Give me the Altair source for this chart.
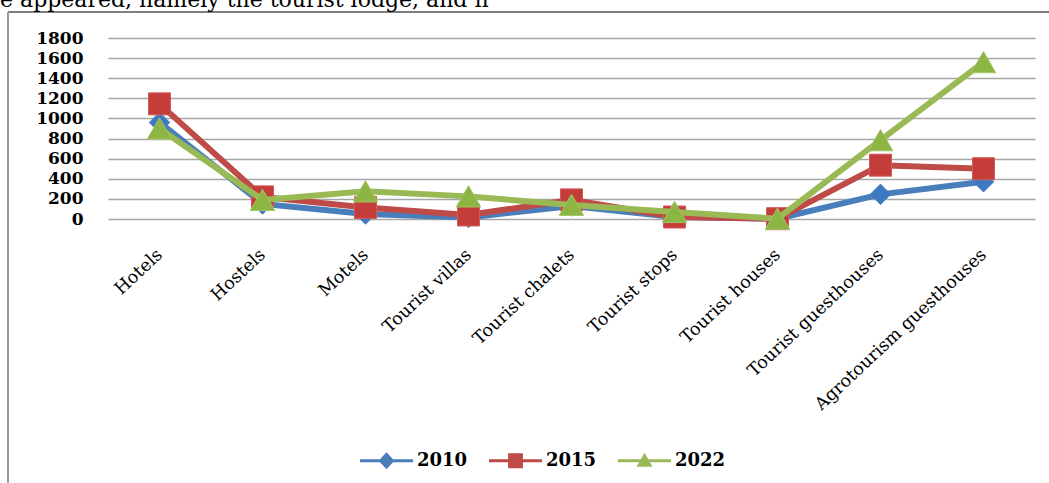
import altair as alt
import pandas as pd

caption = "e appeared, namely the tourist lodge, and h"

categories = [
    "Hotels", "Hostels", "Motels", "Tourist villas", "Tourist chalets",
    "Tourist stops", "Tourist houses", "Tourist guesthouses",
    "Agrotourism guesthouses",
]
years = ["2010", "2015", "2022"]
v2010 = [960, 150, 50, 15, 130, 20, 3, 245, 370]
v2015 = [1145, 220, 115, 40, 190, 20, 3, 535, 500]
v2022 = [900, 190, 275, 225, 140, 70, 3, 784, 1560]
y_ticks = [0, 200, 400, 600, 800, 1000, 1200, 1400, 1600, 1800]

line_colors = ["#4A7EBB", "#BE4B48", "#98B954"]
marker_fill = ["#3D78C2", "#C53D3A", "#8DB544"]
marker_stroke = ["#4A7EBB", "#D05A57", "#A3C467"]
marker_shapes = ["diamond", "square", "triangle-up"]
marker_sizes = [420, 484, 600]
legend_paths = [
    "M-1,-0.06H1V0.06H-1Z M0,-0.32L0.3,0L0,0.32L-0.3,0Z",
    "M-1,-0.06H1V0.06H-1Z M-0.28,-0.28H0.28V0.28H-0.28Z",
    "M-1,-0.06H1V0.06H-1Z M0,-0.3L0.3,0.23H-0.3Z",
]

rows = []
for yr, vals in zip(years, [v2010, v2015, v2022]):
    for c, v in zip(categories, vals):
        rows.append({"category": c, "year": yr, "value": v})
df = pd.DataFrame(rows)

SERIF = "DejaVu Serif"

x_enc = alt.X(
    "category:N",
    sort=categories,
    scale=alt.Scale(domain=categories),
    axis=alt.Axis(
        title=None, labelAngle=-43, labelAlign="right", labelBaseline="middle",
        labelPadding=33, labelFont=SERIF, labelFontSize=17.5, labelColor="black",
        ticks=False, domain=False, grid=False, labelOverlap=False, labelLimit=400,
    ),
)
y_enc = alt.Y(
    "value:Q",
    scale=alt.Scale(domain=[0, 1800], nice=False),
    axis=alt.Axis(
        title=None, values=y_ticks, format="d", grid=True, gridColor="#A6A6A6",
        gridWidth=1.3, domain=False, ticks=False, labelPadding=25, labelFont=SERIF,
        labelFontWeight="bold", labelFontSize=17, labelColor="black",
    ),
)

base = alt.Chart(df)
layers = []
for i, yr in enumerate(years):
    sub = base.transform_filter(alt.datum.year == yr)
    layers.append(
        sub.mark_line(strokeWidth=6, color=line_colors[i]).encode(x=x_enc, y=y_enc)
    )
    layers.append(
        sub.mark_point(
            shape=marker_shapes[i], size=marker_sizes[i], filled=True,
            fill=marker_fill[i], stroke=marker_stroke[i], strokeWidth=1, opacity=1,
        ).encode(x=x_enc, y=y_enc)
    )

leg = alt.Legend(
    orient="none", legendX=252, legendY=396, direction="horizontal", title=None,
    symbolSize=2809, symbolStrokeWidth=0, symbolOpacity=1,
    labelFont=SERIF, labelFontWeight="bold", labelFontSize=18, labelColor="black",
    labelOffset=4, columnPadding=21,
)
legend_layer = base.mark_point(filled=True, opacity=0).encode(
    x=x_enc,
    y=y_enc,
    color=alt.Color("year:N", scale=alt.Scale(domain=years, range=line_colors), legend=leg),
    shape=alt.Shape("year:N", scale=alt.Scale(domain=years, range=legend_paths), legend=leg),
)

cap_df = pd.DataFrame({"t": [caption]})
caption_layer = alt.Chart(cap_df).mark_text(
    align="left", baseline="alphabetic", font=SERIF, fontSize=22, color="black"
).encode(text="t:N", x=alt.value(-108), y=alt.value(-31))

frame_df = pd.DataFrame({"k": [0]})
top_border = alt.Chart(frame_df).mark_rule(color="#7F7F7F", strokeWidth=2).encode(
    x=alt.value(-100), x2=alt.value(941), y=alt.value(-26)
)
left_border = alt.Chart(frame_df).mark_rule(color="#9A9A9A", strokeWidth=2).encode(
    x=alt.value(-100), y=alt.value(-26), y2=alt.value(460)
)

chart = alt.layer(
    top_border, left_border, caption_layer, *layers, legend_layer
).properties(
    width=927, height=181,
    autosize=alt.AutoSizeParams(type="none"),
    padding={"left": 108, "top": 38, "right": 14, "bottom": 264},
    background="white",
).configure_view(stroke=None)

chart.save("out.html", embed_options={"renderer": "svg", "actions": False})
